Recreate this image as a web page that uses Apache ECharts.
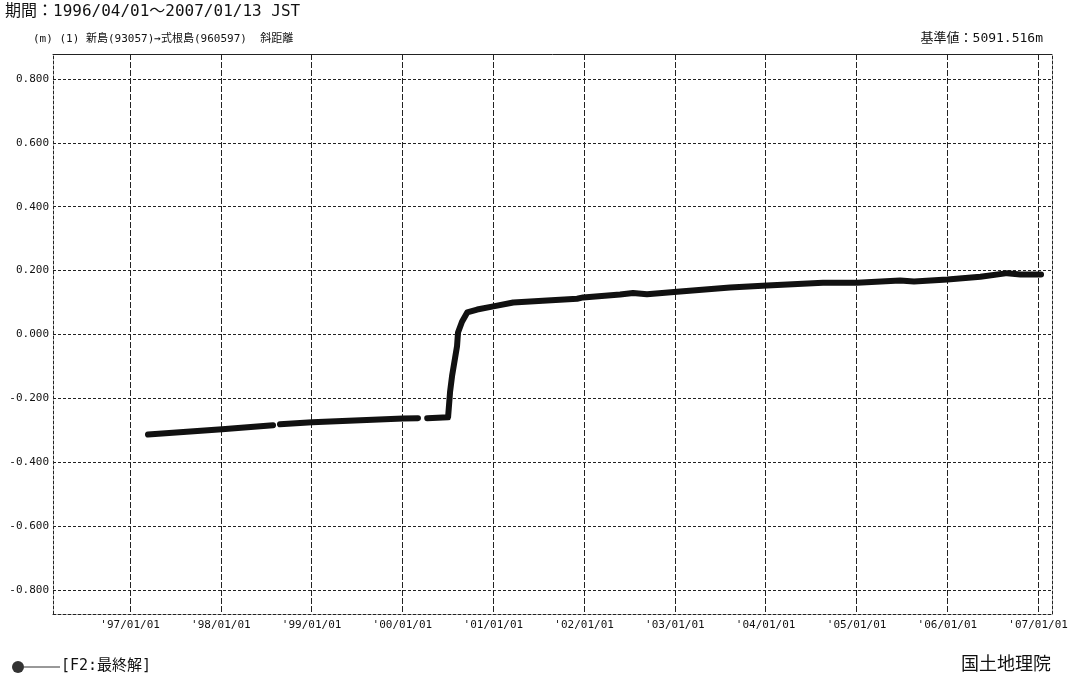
<!DOCTYPE html>
<html>
<head>
<meta charset="utf-8">
<title>新島→式根島 斜距離</title>
<script src="https://cdn.jsdelivr.net/npm/echarts@6/dist/echarts.min.js"></script>
<style>
  html, body { margin: 0; padding: 0; background: #fff; }
  #chart { width: 1073px; height: 681px; }
</style>
</head>
<body>
<div id="chart"></div>
<script>
// 観測日（null の値は欠測）
var dates = [
  "1997-03-14", "1998-01-06", "1998-07-30", "1998-08-12", "1998-08-27",
  "1999-01-03", "2000-01-04", "2000-03-04", "2000-03-20", "2000-04-10",
  "2000-07-03", "2000-07-11", "2000-07-19", "2000-08-08", "2000-08-12",
  "2000-08-28", "2000-09-18", "2000-10-28", "2001-01-01", "2001-03-22",
  "2001-08-05", "2001-12-04", "2001-12-28", "2002-05-26", "2002-07-17",
  "2002-09-11", "2003-01-10", "2003-08-11", "2004-01-07", "2004-08-19",
  "2005-01-03", "2005-06-25", "2005-08-20", "2006-01-01", "2006-05-14",
  "2006-08-30", "2006-10-22", "2007-01-13"
];
// 斜距離の変化量 (m)
var values = [
  -0.313, -0.297, -0.284, null, -0.281,
  -0.275, -0.263, -0.262, null, -0.262,
  -0.259, -0.180, -0.130, -0.037, 0.006,
  0.040, 0.069, 0.078, 0.088, 0.100,
  0.106, 0.112, 0.116, 0.125, 0.130,
  0.126, 0.134, 0.147, 0.153, 0.162,
  0.162, 0.169, 0.166, 0.172, 0.181,
  0.192, 0.188, 0.188
];
// 目盛り
var yearTicks = ["1997", "1998", "1999", "2000", "2001", "2002", "2003", "2004", "2005", "2006", "2007"];
var yTicks = [-0.8, -0.6, -0.4, -0.2, 0, 0.2, 0.4, 0.6, 0.8];

function ts(s) {
  var p = s.split("-");
  return Date.UTC(+p[0], +p[1] - 1, +p[2]);
}

var xTickValues = yearTicks.map((y) => ts(y + "-01-01"));
var seriesData = dates.map((d, i) => [ts(d), values[i] === null ? "-" : values[i]]);

var chart = echarts.init(document.getElementById("chart"));

var monoFont = "'DejaVu Sans Mono', monospace";
var textFont = "'DejaVu Sans Mono', 'Noto Sans CJK JP', monospace";
var dashLine = { color: "#222", width: 1, type: [3, 2] };

var option = {
  backgroundColor: "#fff",
  animation: false,
  grid: { left: 53, right: 21, top: 54, bottom: 67 },
  xAxis: [
    {
      type: "value",
      min: ts("1996-02-26"),
      max: ts("2007-02-26"),
      axisLine: { show: true, onZero: false, lineStyle: dashLine },
      axisTick: { show: false, customValues: xTickValues },
      axisLabel: {
        customValues: xTickValues,
        color: "#111",
        fontFamily: monoFont,
        fontSize: 11,
        margin: 6,
        formatter: function (v) {
          var d = new Date(v);
          return "'" + String(d.getUTCFullYear()).slice(2) + "/01/01";
        },
      },
      splitLine: { show: true, lineStyle: { color: "#222", width: 1, type: [6, 2] } },
    },
    {
      // 上枠
      type: "value",
      position: "top",
      min: ts("1996-02-26"),
      max: ts("2007-02-26"),
      axisLine: { show: true, onZero: false, lineStyle: { color: "#222", width: 1 } },
      axisTick: { show: false },
      axisLabel: { show: false },
      splitLine: { show: false },
    },
  ],
  yAxis: [
    {
      type: "value",
      min: -0.875,
      max: 0.878,
      axisLine: { show: true, onZero: false, lineStyle: dashLine },
      axisTick: { show: false, customValues: yTicks },
      axisLabel: {
        customValues: yTicks,
        color: "#111",
        fontFamily: monoFont,
        fontSize: 11,
        margin: 4,
        formatter: function (v) {
          return v.toFixed(3);
        },
      },
      splitLine: { show: true, lineStyle: dashLine },
    },
    {
      // 右枠
      type: "value",
      position: "right",
      min: -0.875,
      max: 0.878,
      axisLine: { show: true, onZero: false, lineStyle: dashLine },
      axisTick: { show: false },
      axisLabel: { show: false },
      splitLine: { show: false },
    },
  ],
  series: [
    {
      name: "[F2:最終解]",
      type: "line",
      data: seriesData,
      showSymbol: false,
      connectNulls: false,
      lineStyle: { color: "#111", width: 6, cap: "round", join: "round" },
    },
  ],
  graphic: [
    {
      type: "text",
      left: 5,
      top: 4,
      style: {
        text: "期間：1996/04/01～2007/01/13 JST",
        fontFamily: textFont,
        fontSize: 16,
        fill: "#111",
      },
    },
    {
      type: "text",
      left: 33,
      top: 34,
      style: {
        text: "(m) (1) 新島(93057)→式根島(960597)  斜距離",
        fontFamily: textFont,
        fontSize: 11,
        fill: "#111",
      },
    },
    {
      type: "text",
      right: 30,
      top: 32,
      style: {
        text: "基準値：5091.516m",
        fontFamily: textFont,
        fontSize: 13,
        fill: "#111",
      },
    },
    // 凡例
    {
      type: "circle",
      shape: { cx: 18, cy: 667, r: 6 },
      style: { fill: "#333" },
    },
    {
      type: "line",
      shape: { x1: 24, y1: 667, x2: 60, y2: 667 },
      style: { stroke: "#333", lineWidth: 1 },
    },
    {
      type: "text",
      left: 61,
      top: 659,
      style: {
        text: "[F2:最終解]",
        fontFamily: textFont,
        fontSize: 15,
        fill: "#111",
      },
    },
    {
      type: "text",
      right: 22,
      top: 656,
      style: {
        text: "国土地理院",
        fontFamily: textFont,
        fontSize: 18,
        fill: "#111",
      },
    },
  ],
};

chart.setOption(option);
</script>
</body>
</html>
